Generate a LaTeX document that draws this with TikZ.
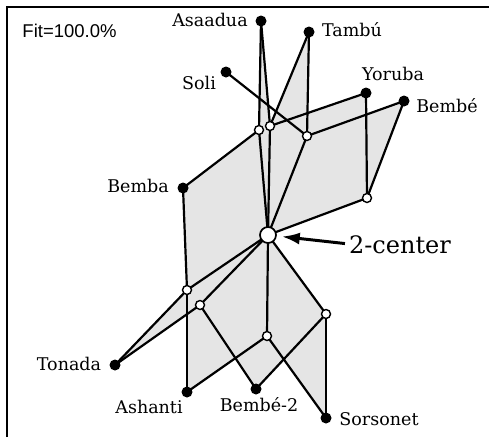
\documentclass[tikz,border=0pt]{standalone}
\usepackage{fontspec}
\setmainfont{DejaVu Serif}
\newfontfamily\fitfont{Liberation Sans}
\usetikzlibrary{arrows.meta,backgrounds}

\begin{document}
\begin{tikzpicture}[x=1pt,y=-1pt,
	taxon/.style={circle,fill=black,inner sep=0pt,minimum size=11pt},
	split/.style={circle,draw=black,fill=white,line width=1.4pt,inner sep=0pt,minimum size=9pt},
	hub/.style={circle,draw=black,fill=white,line width=1.7pt,inner sep=0pt,minimum size=16pt},
	lbl/.style={anchor=base,inner sep=0pt,font=\fontsize{17.5}{20}\selectfont},
	face/.style={fill=gray!20},
	netedge/.style={line width=2.2pt},
	pointer/.style={line width=3pt,-{Latex[length=18pt,width=12pt]},shorten <=4pt,shorten >=5pt}]

	\useasboundingbox (0,0) rectangle (489,437);
	\draw[line width=1.6pt] (7,437) -- (7,7) -- (489,7);

	% taxa
	\node[taxon] (asaadua) at (261,21) {};
	\node[taxon] (tambu) at (309,32) {};
	\node[taxon] (soli) at (226,72) {};
	\node[taxon] (yoruba) at (366,93) {};
	\node[taxon] (bembe) at (404,101) {};
	\node[taxon] (bemba) at (183,188) {};
	\node[taxon] (tonada) at (115,365) {};
	\node[taxon] (ashanti) at (187,392) {};
	\node[taxon] (bembeb) at (256,389) {};
	\node[taxon] (sorsonet) at (326,418) {};

	% inner nodes
	\node[split] (v1) at (259,130) {};
	\node[split] (v2) at (270,126) {};
	\node[split] (v3) at (307,136) {};
	\node[split] (v4) at (367,198) {};
	\node[split] (v5) at (187,290) {};
	\node[split] (v6) at (200,305) {};
	\node[split] (v7) at (267,336) {};
	\node[split] (v8) at (326,314) {};
	\node[hub] (c) at (268,235) {};

	\begin{scope}[on background layer]
	\foreach \a / \b / \c / \d in {
		bemba/v1/c/v5,
		asaadua/v2/c/v1,
		tambu/v3/c/v2,
		yoruba/v4/c/v2,
		bembe/v4/c/v3,
		c/v5/tonada/v6,
		c/v5/ashanti/v7,
		c/v6/bembeb/v8,
		c/v7/sorsonet/v8}
	{
		\fill[face] (\a.center) -- (\b.center) -- (\c.center) -- (\d.center) -- cycle;
	};
	\foreach \i / \j in {
		asaadua/v1, asaadua/v2,
		tambu/v2, tambu/v3,
		soli/v3,
		yoruba/v2, yoruba/v4,
		bembe/v3, bembe/v4,
		bemba/v1, bemba/v5,
		v1/c, v2/c, v3/c, v4/c,
		c/v5, c/v6, c/v7, c/v8,
		v5/tonada, v6/tonada,
		v5/ashanti, v7/ashanti,
		v6/bembeb, v8/bembeb,
		v7/sorsonet, v8/sorsonet}
	{
		\path[netedge] (\i.center) edge (\j.center);
	};
	\end{scope}

	% labels
	\node[lbl] (tAsaadua) at (210,26) {Asaadua};
	\node[lbl] (tTambu) at (352,36) {Tambú};
	\node[lbl] (tSoli) at (199,89) {Soli};
	\node[lbl] (tYoruba) at (393,80) {Yoruba};
	\node[lbl] (tBembe) at (447,112) {Bembé};
	\node[lbl] (tBemba) at (138,192) {Bemba};
	\node[lbl] (tTonada) at (69,370) {Tonada};
	\node[lbl] (tAshanti) at (149,413) {Ashanti};
	\node[lbl] (tBembeb) at (259,411) {Bembé-2};
	\node[lbl] (tSorsonet) at (379,425) {Sorsonet};
	\node[lbl,font=\fontsize{24}{28}\selectfont] (tCenter) at (400,253) {2-center};
	\node[lbl,font=\fitfont\fontsize{18.5}{22}\selectfont] (tFit) at (69.5,37) {Fit=100.0\%};

	\draw[pointer] (tCenter.west |- 0,244) -- (c);
\end{tikzpicture}
\end{document}
